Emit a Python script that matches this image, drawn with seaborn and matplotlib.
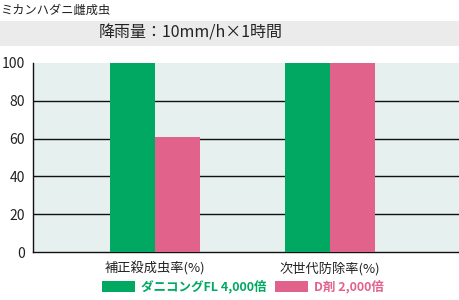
import matplotlib
matplotlib.use("Agg")
import matplotlib.pyplot as plt
import seaborn as sns
import pandas as pd
from matplotlib.patches import Rectangle

categories = ["補正殺成虫率(%)", "次世代防除率(%)"]
series = ["ダニコングFL 4,000倍", "D剤 2,000倍"]
values_danikong = [100, 100]
values_d = [61, 100]
yticks = [0, 20, 40, 60, 80, 100]
title = "ミカンハダニ雌成虫"
condition = "降雨量：10mm/h×1時間"

colors = ["#00A862", "#E1638C"]

sns.set_theme(style="white")
plt.rcParams['font.family'] = ['Noto Sans CJK JP', 'DejaVu Sans']

df = pd.DataFrame({
    "category": categories * 2,
    "series": [series[0]] * 2 + [series[1]] * 2,
    "value": values_danikong + values_d,
})

fig = plt.figure(figsize=(4.6, 3.0), dpi=100)
fig.patch.set_facecolor("white")
ax = fig.add_axes([33 / 460, 1 - 252 / 300, 1 - 33 / 460, (252 - 63) / 300])
ax.set_facecolor("#E6F0EE")

sns.barplot(data=df, x="category", y="value", hue="series", order=categories,
            hue_order=series, palette=colors, width=0.514, saturation=1,
            ax=ax, zorder=3, linewidth=0)

ax.set_ylim(0, 100)
ax.set_xlim(-0.697, 1.743)
ax.set_yticks(yticks)
ax.set_yticklabels([str(t) for t in yticks], fontsize=10, color="#222222")
ax.tick_params(axis="y", length=0, pad=6)
ax.tick_params(axis="x", length=0, pad=7, labelsize=9.5, labelcolor="#222222")
for t in [20, 40, 60, 80]:
    ax.axhline(t, color="#111111", linewidth=1.0, zorder=1)
for s in ["top", "right"]:
    ax.spines[s].set_visible(False)
ax.spines["left"].set_color("#111111")
ax.spines["bottom"].set_color("#111111")
ax.spines["left"].set_linewidth(1.0)
ax.spines["bottom"].set_linewidth(1.0)
ax.set_xlabel("")
ax.set_ylabel("")

# legend
handles, labels = ax.get_legend_handles_labels()
if ax.get_legend() is not None:
    ax.get_legend().remove()
leg = fig.legend(handles, labels, loc="center", bbox_to_anchor=(0.528, 1 - 287 / 300),
                 ncol=2, frameon=False, handlelength=2.6, handleheight=0.9,
                 handletextpad=0.5, columnspacing=0.7, prop={"size": 9, "weight": "bold"})
for txt, c in zip(leg.get_texts(), colors):
    txt.set_color(c)

# title and condition band
fig.text(0.0, 1 - 10 / 300, title, fontsize=8.8, ha="left", va="center", color="#222222")
fig.patches.append(Rectangle((0, 1 - 46 / 300), 1, 25 / 300, transform=fig.transFigure,
                             facecolor="#EBEBEB", edgecolor="none", zorder=0))
fig.text(191 / 460, 1 - 33.5 / 300, condition, fontsize=11.5, ha="center", va="center",
         color="#222222")

fig.savefig("out.png", dpi=100)
